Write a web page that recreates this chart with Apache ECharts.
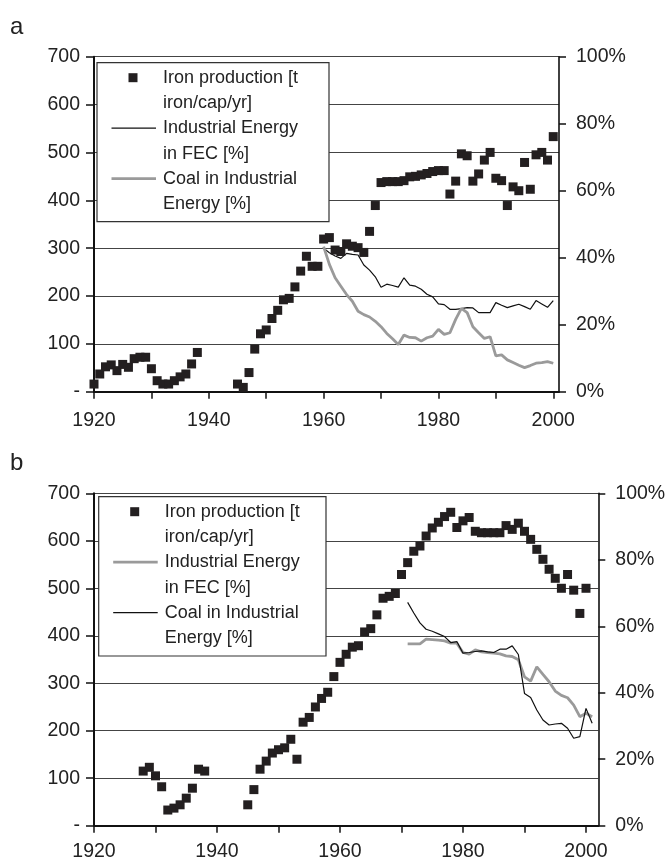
<!DOCTYPE html>
<html>
<head>
<meta charset="utf-8">
<script src="https://cdn.jsdelivr.net/npm/echarts@6/dist/echarts.min.js"></script>
<style>
  html, body { margin: 0; padding: 0; background: #fff; }
  #chart { width: 670px; height: 860px; }
</style>
</head>
<body>
<div id="chart"></div>
<script>
// ---- data ----
// iron production, t iron/cap/yr, one value per year, null = no data
const ironAStart = 1920
const ironA = [16, 37, 52, 56, 44, 57, 51, 69, 72, 72, 48, 23, 16, 16, 23, 31, 37, 58, 82,
  null, null, null, null, null, null,
  16, 9, 40, 89, 121, 129, 153, 170, 192, 195, 219, 252, 283, 262, 262,
  319, 322, 296, 293, 309, 304, 301, 291, 335, 389,
  437, 439, 439, 439, 441, 449, 450, 453, 456, 460,
  462, 462, 413, 440, 497, 493, 440, 455, 484, 500,
  446, 441, 389, 428, 420, 479, 423, 495, 500, 484, 533]

// panel a lines, % (right axis), from 1960
const linesAStart = 1960
const energyA = [42.8, 41.5, 40.5, 39.8, 41.3, 41, 40.8, 37.8, 36.3, 34.3,
  31.2, 32.1, 31.7, 31.2, 34, 31.8, 31.5, 30.6, 29.1, 28.3,
  26.2, 26, 24.6, 24.6, 24.8, 25.1, 25, 23.6, 23.6, 23.6,
  26.6, 25.8, 25.1, 25.6, 26.1, 25.4, 24.6, 27.2, 26.2, 25.2, 27.2]
const coalA = [43.3, 38, 34, 31.5, 29, 27, 24, 23, 22.3, 21,
  19.4, 17.4, 15.8, 14.1, 16.9, 16.2, 16.1, 15.1, 16.1, 16.6,
  18.6, 17.1, 17.6, 21.6, 24.9, 23.6, 19.4, 17.6, 15.9, 16.4,
  10.7, 11, 9.5, 8.7, 7.9, 7.2, 7.8, 8.5, 8.7, 9.0, 8.5]

const ironBStart = 1928
const ironB = [115, 123, 105, 82, 33, 37, 44, 58, 79, 119, 115,
  null, null, null, null, null, null,
  44, 76, 119, 136, 153, 160, 164, 182, 140, 218, 228, 250, 268, 281, 314,
  344, 361, 376, 379, 408, 415, 444, 479, 483, 489,
  529, 554, 578, 589, 610, 627, 639, 651, 660, 628,
  642, 649, 620, 617, 617, 617, 617, 632, 624, 637,
  620, 603, 582, 561, 540, 521, 500, 529, 496, 447, 500]

const linesBStart = 1971
const energyB = [54.7, 54.7, 54.7, 56.1, 56, 55.8, 55.6, 54.9, 54.9, 52.1,
  51.6, 52.9, 52.3, 52.1, 51.9, 51.7, 51.1, 50.9, 49.9, 44.8,
  43.5, 47.8, 45.5, 43.3, 40.5, 39.2, 38.5, 36.3, 32.8, 33.8, 32.8]
const coalB = [67.2, 64, 61, 59.1, 58.5, 57.7, 56.9, 55.1, 55.4, 51.9,
  52.1, 52.4, 52.6, 52.3, 52.1, 53.1, 53.1, 54.1, 51.5, 39.8,
  38.6, 34.8, 31.8, 30.3, 30.6, 30.8, 29.3, 26.3, 26.8, 35.3, 30.8]

const xTicks = [1920, 1930, 1940, 1950, 1960, 1970, 1980, 1990, 2000]
const yearLabels = [1920, 1940, 1960, 1980, 2000]

const IRON = 'Iron production [t iron/cap/yr]'
const ENERGY = 'Industrial Energy in FEC [%]'
const COAL = 'Coal in Industrial Energy [%]'

const FONT = '"Liberation Sans", Arial, sans-serif'
const INK = '#231f20'
const GREY = '#9a9a9a'

function pairs(start, vals) {
  return vals.map((v, i) => [start + i, v]).filter(p => p[1] != null)
}

function xAxis(grid, max, margin) {
  return {
    type: 'value', gridIndex: grid, min: 1920, max: max, interval: 10,
    axisLine: { onZero: false, lineStyle: { color: '#111', width: 2 } },
    axisTick: { length: 7, customValues: xTicks, lineStyle: { color: '#111', width: 1.5 } },
    axisLabel: { margin: margin, customValues: yearLabels, fontSize: 19.5, color: '#222', fontFamily: FONT,
      formatter: v => String(v) },
    splitLine: { show: false }
  }
}
function leftAxis(grid) {
  return {
    type: 'value', gridIndex: grid, position: 'left', min: 0, max: 700, interval: 100,
    axisLine: { show: true, lineStyle: { color: '#111', width: 2 } },
    axisTick: { show: true, length: 8, lineStyle: { color: '#111', width: 1.5 } },
    axisLabel: { margin: 14, fontSize: 19.5, color: '#222', fontFamily: FONT,
      formatter: v => (v === 0 ? '-' : String(v)) },
    splitLine: { show: true, lineStyle: { color: '#444', width: 1.2 } }
  }
}
function rightAxis(grid) {
  return {
    type: 'value', gridIndex: grid, position: 'right', min: 0, max: 100, interval: 20,
    axisLine: { show: true, lineStyle: { color: '#111', width: 1.6 } },
    axisTick: { show: true, length: 7, lineStyle: { color: '#111', width: 1.5 } },
    axisLabel: { margin: 17, fontSize: 19.5, color: '#222', fontFamily: FONT, formatter: '{value}%' },
    splitLine: { show: false }
  }
}

function line(name, xi, yi, start, vals, color, width) {
  return {
    name, type: 'line', xAxisIndex: xi, yAxisIndex: yi,
    data: pairs(start, vals), showSymbol: false, z: 2,
    lineStyle: { color, width }, itemStyle: { color }
  }
}
function scatter(xi, yi, start, vals) {
  return {
    name: IRON, type: 'scatter', xAxisIndex: xi, yAxisIndex: yi,
    data: pairs(start, vals), symbol: 'rect', symbolSize: 9, z: 3,
    itemStyle: { color: INK, opacity: 1 }
  }
}

// legend drawn as a box with two-line labels (icons sit on the first line)
function legend(x, y, w, h, items) {
  const kids = [{
    type: 'rect', z: 100, shape: { x: 0, y: 0, width: w, height: h },
    style: { fill: '#fff', stroke: '#333', lineWidth: 1.2 }
  }]
  items.forEach((it, i) => {
    const cy = 15 + i * 50.5
    if (it.kind === 'square') {
      kids.push({ type: 'rect', z: 101, shape: { x: 31.5, y: cy - 4.5, width: 9, height: 9 }, style: { fill: INK } })
    } else {
      kids.push({ type: 'line', z: 101, shape: { x1: 14.5, y1: cy, x2: 59, y2: cy },
        style: { stroke: it.color, lineWidth: it.width } })
    }
    kids.push({ type: 'text', z: 101, x: 66, y: cy - 12.7,
      style: { text: it.text, fontSize: 18, fontFamily: FONT, fill: '#222',
        lineHeight: 25.4, verticalAlign: 'top' } })
  })
  return { type: 'group', x, y, z: 100, children: kids }
}

const chart = echarts.init(document.getElementById('chart'))
chart.setOption({
  animation: false,
  backgroundColor: '#fff',
  grid: [
    { left: 94, top: 56.7, width: 465, height: 335, outerBoundsMode: 'none' },
    { left: 94, top: 493.3, width: 504.3, height: 332.4, outerBoundsMode: 'none' }
  ],
  xAxis: [xAxis(0, 2001, 19), xAxis(1, 2002, 16)],
  yAxis: [leftAxis(0), rightAxis(0), leftAxis(1), rightAxis(1)],
  series: [
    line(ENERGY, 0, 1, linesAStart, energyA, '#111', 1.2),
    line(COAL, 0, 1, linesAStart, coalA, GREY, 2.8),
    scatter(0, 0, ironAStart, ironA),
    line(ENERGY, 1, 3, linesBStart, energyB, GREY, 2.8),
    line(COAL, 1, 3, linesBStart, coalB, '#111', 1.2),
    scatter(1, 2, ironBStart, ironB)
  ],
  graphic: [
    { type: 'text', x: 10, y: 15, style: { text: 'a', fontSize: 24, fontFamily: FONT, fill: '#222' } },
    { type: 'text', x: 10, y: 451, style: { text: 'b', fontSize: 24, fontFamily: FONT, fill: '#222' } },
    legend(97, 62.7, 232, 159, [
      { kind: 'square', text: 'Iron production [t\niron/cap/yr]' },
      { kind: 'line', color: '#111', width: 1.2, text: 'Industrial Energy\nin FEC [%]' },
      { kind: 'line', color: GREY, width: 2.8, text: 'Coal in Industrial\nEnergy [%]' }
    ]),
    legend(98.7, 496.7, 227.3, 159.3, [
      { kind: 'square', text: 'Iron production [t\niron/cap/yr]' },
      { kind: 'line', color: GREY, width: 2.8, text: 'Industrial Energy\nin FEC [%]' },
      { kind: 'line', color: '#111', width: 1.2, text: 'Coal in Industrial\nEnergy [%]' }
    ])
  ]
})
</script>
</body>
</html>
